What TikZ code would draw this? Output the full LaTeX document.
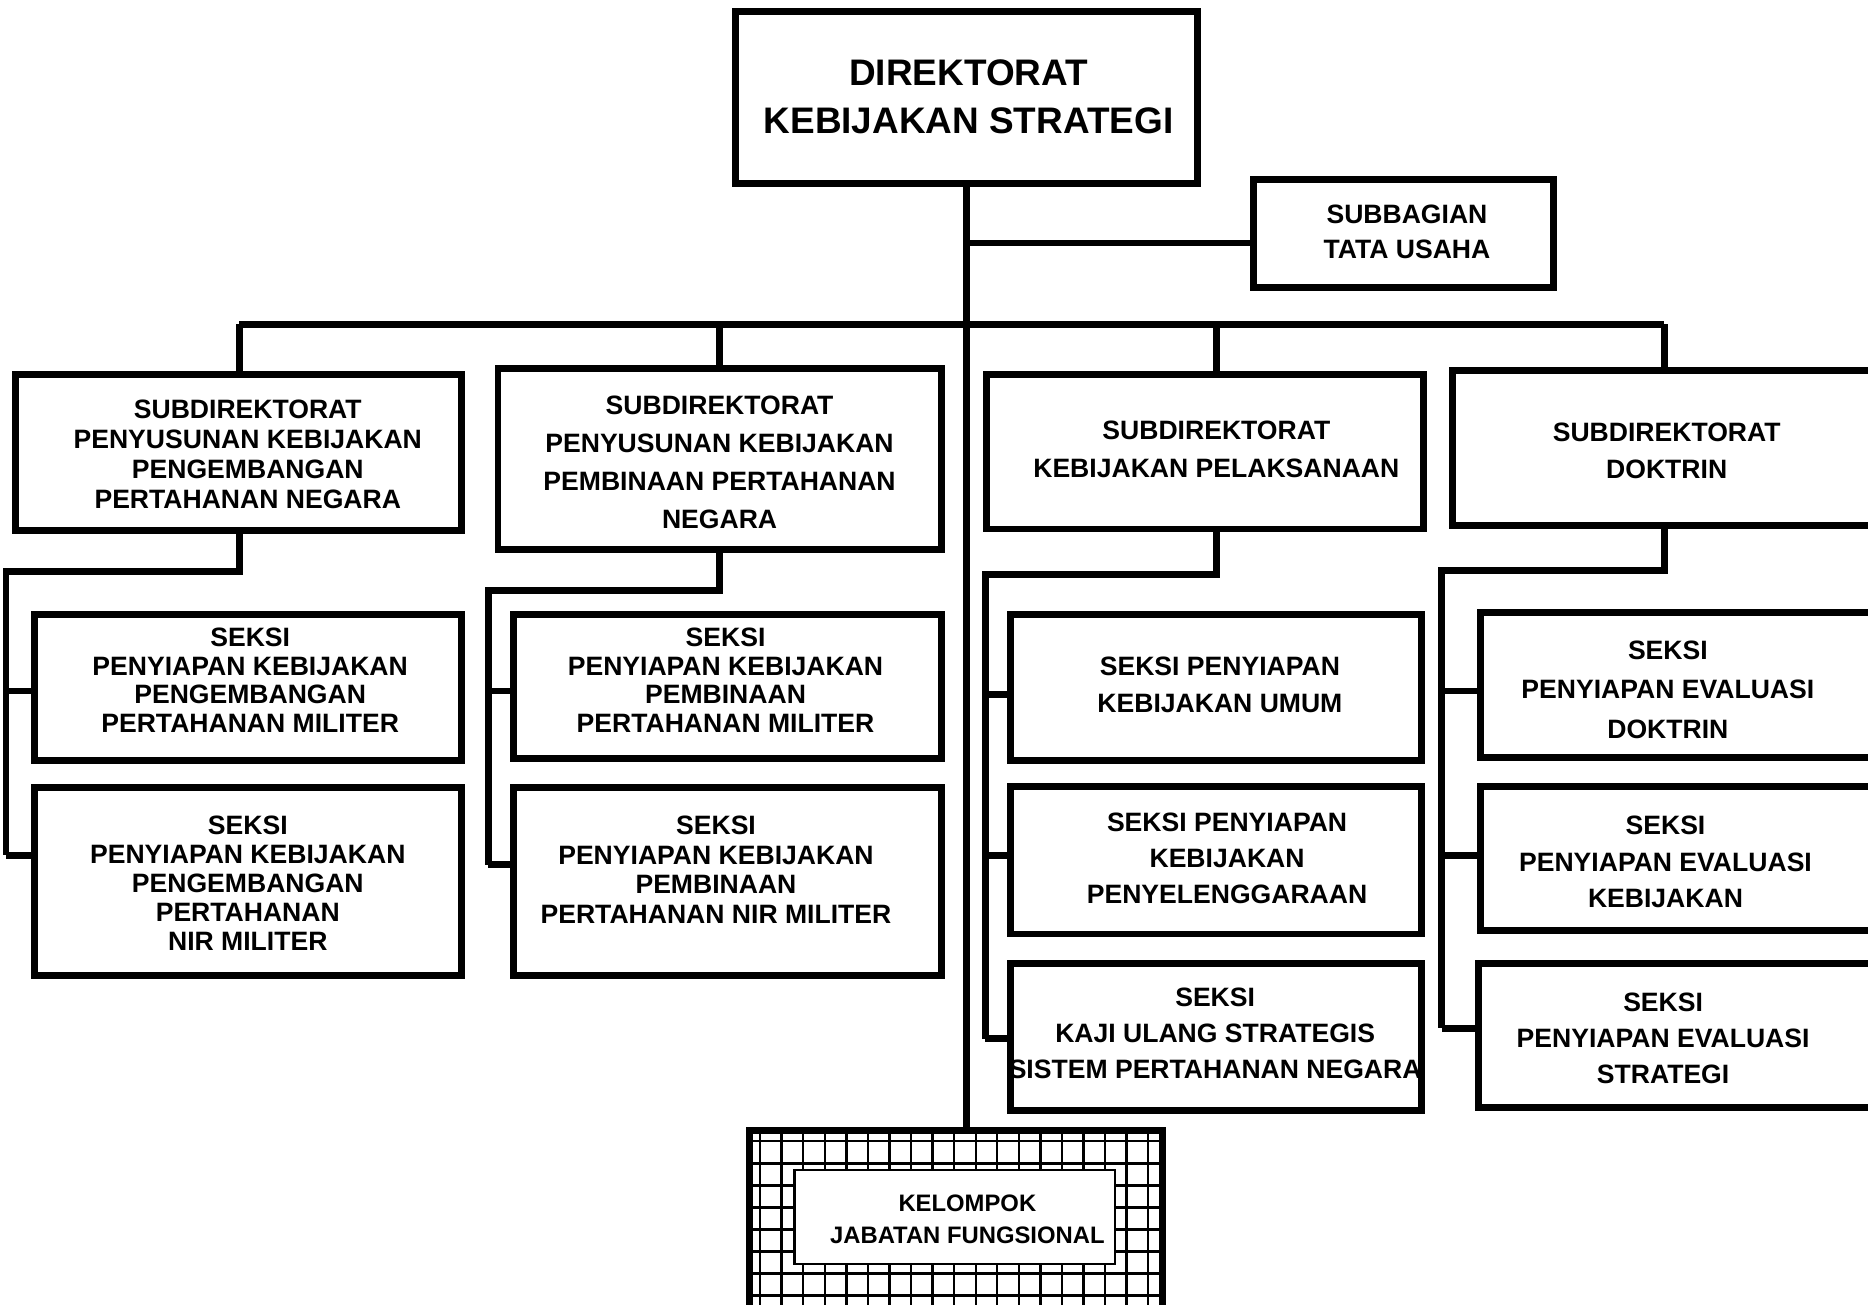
\documentclass[tikz,border=0pt]{standalone}
\usepackage{fontspec}
\setmainfont{Liberation Sans}

\begin{document}
\begin{tikzpicture}[x=1pt,y=-1pt,line width=5.8pt,
	box/.style={draw,inner sep=0pt,outer sep=0pt},
	txt/.style={font=\bfseries\fontsize{22.3pt}{#1pt}\selectfont,align=center,inner sep=0pt},
	txt/.default=24]
	\clip (0,0) rectangle (1568,1095);
	
	%KELOMPOK (grid)
	\begin{scope}
		\clip (629,949) rectangle (976,1111);
		\draw[line width=2pt,xstep=18.1pt,ystep=18.5pt,shift={(638,958)}] (-30,170) grid (360,-30);
	\end{scope}
	\node[box,minimum width=347,minimum height=162] (kjf) at (802.5,1030) {};
	\node[box,fill=white,line width=2pt,minimum width=269,minimum height=79] (kjfin) at (801.5,1021.5) {};
	\node[txt,font=\bfseries\fontsize{20pt}{27pt}\selectfont] (kjfT) at (812,1023.5) {KELOMPOK\\JABATAN FUNGSIONAL};
	
	%BOXES
	\node[box,minimum width=388,minimum height=144] (dir) at (811,82) {};
	\node[box,minimum width=252,minimum height=91] (sbtu) at (1178,196) {};
	\node[box,minimum width=374,minimum height=131] (sd1) at (200,379.5) {};
	\node[box,minimum width=372,minimum height=152] (sd2) at (604,385) {};
	\node[box,minimum width=367,minimum height=130] (sd3) at (1011.5,379) {};
	\node[box,minimum width=400,minimum height=130,anchor=west] (sd4) at (1219,376) {};
	%
	\node[box,minimum width=358,minimum height=122] (s1a) at (208,577) {};
	\node[box,minimum width=358,minimum height=158] (s1b) at (208,740) {};
	\node[box,minimum width=359,minimum height=121] (s2a) at (610.5,576.5) {};
	\node[box,minimum width=359,minimum height=158] (s2b) at (610.5,740) {};
	\node[box,minimum width=345,minimum height=122] (s3a) at (1020.5,577) {};
	\node[box,minimum width=345,minimum height=124] (s3b) at (1020.5,722) {};
	\node[box,minimum width=345,minimum height=123] (s3c) at (1020.5,870.5) {};
	\node[box,minimum width=400,minimum height=122,anchor=west] (s4a) at (1243,575) {};
	\node[box,minimum width=400,minimum height=121,anchor=west] (s4b) at (1243,720.5) {};
	\node[box,minimum width=400,minimum height=121,anchor=west] (s4c) at (1241,869.5) {};
	
	%TEXTS
	\node[txt,font=\bfseries\fontsize{31pt}{40pt}\selectfont] (dirT) at (813,81) {DIREKTORAT\\KEBIJAKAN STRATEGI};
	\node[txt=29] (sbtuT) at (1181,194.5) {SUBBAGIAN\\TATA USAHA};
	\node[txt=25] (sd1T) at (208,381.5) {SUBDIREKTORAT\\PENYUSUNAN KEBIJAKAN\\PENGEMBANGAN\\PERTAHANAN NEGARA};
	\node[txt=32] (sd2T) at (604,388) {SUBDIREKTORAT\\PENYUSUNAN KEBIJAKAN\\PEMBINAAN PERTAHANAN\\NEGARA};
	\node[txt=32] (sd3T) at (1021,377) {SUBDIREKTORAT\\KEBIJAKAN PELAKSANAAN};
	\node[txt=31] (sd4T) at (1399,378.5) {SUBDIREKTORAT\\DOKTRIN};
	%
	\node[txt] (s1aT) at (210,571) {SEKSI\\PENYIAPAN KEBIJAKAN\\PENGEMBANGAN\\PERTAHANAN MILITER};
	\node[txt=24.25] (s1bT) at (208,741.5) {SEKSI\\PENYIAPAN KEBIJAKAN\\PENGEMBANGAN\\PERTAHANAN\\NIR MILITER};
	\node[txt] (s2aT) at (609,571) {SEKSI\\PENYIAPAN KEBIJAKAN\\PEMBINAAN\\PERTAHANAN MILITER};
	\node[txt=24.7] (s2bT) at (601,730) {SEKSI\\PENYIAPAN KEBIJAKAN\\PEMBINAAN\\PERTAHANAN NIR MILITER};
	\node[txt=31] (s3aT) at (1024,574.5) {SEKSI PENYIAPAN\\KEBIJAKAN UMUM};
	\node[txt=30.5] (s3bT) at (1030,720.5) {SEKSI PENYIAPAN\\KEBIJAKAN\\PENYELENGGARAAN};
	\node[txt=30.5] (s3cT) at (1020,867.5) {SEKSI\\KAJI ULANG STRATEGIS\\SISTEM PERTAHANAN NEGARA};
	\node[txt=33] (s4aT) at (1400,579) {SEKSI\\PENYIAPAN EVALUASI\\DOKTRIN};
	\node[txt=30.5] (s4bT) at (1398,723.5) {SEKSI\\PENYIAPAN EVALUASI\\KEBIJAKAN};
	\node[txt=30.5] (s4cT) at (1396,871.5) {SEKSI\\PENYIAPAN EVALUASI\\STRATEGI};
	
	%LINES
	\coordinate (tu) at (811,204);
	\coordinate (d1) at (201,272); \coordinate (d2) at (604,272);
	\coordinate (d3) at (1021,272); \coordinate (d4) at (1397,272);
	\draw (dir.south) -- (dir.south |- kjf.north); %trunk
	\draw (tu) -- (tu -| sbtu.west); %tata usaha
	\draw (d1) -- (d4); %bus
	\foreach \i in {1,...,4} \draw (d\i) -- (d\i |- sd\i.north);
	
	%BRACKETS
	\coordinate (b1) at (5,480);    \coordinate (t1a) at (5,580);    \coordinate (t1b) at (5,718);
	\coordinate (b2) at (410,496);  \coordinate (t2a) at (410,580);  \coordinate (t2b) at (410,726);
	\coordinate (b3) at (827,482);  \coordinate (t3a) at (827,583);  \coordinate (t3b) at (827,718);  \coordinate (t3c) at (827,872);
	\coordinate (b4) at (1210,479); \coordinate (t4a) at (1210,580); \coordinate (t4b) at (1210,718); \coordinate (t4c) at (1210,863);
	\draw (d1 |- sd1.south) |- (b1) -- (t1b);
	\draw (d2 |- sd2.south) |- (b2) -- (t2b);
	\draw (d3 |- sd3.south) |- (b3) -- (t3c);
	\draw (d4 |- sd4.south) |- (b4) -- (t4c);
	\foreach \t/\s in {t1a/s1a,t1b/s1b,t2a/s2a,t2b/s2b,t3a/s3a,t3b/s3b,t3c/s3c,t4a/s4a,t4b/s4b,t4c/s4c}
		\draw (\t) -- (\t -| \s.west);
\end{tikzpicture}
\end{document}
